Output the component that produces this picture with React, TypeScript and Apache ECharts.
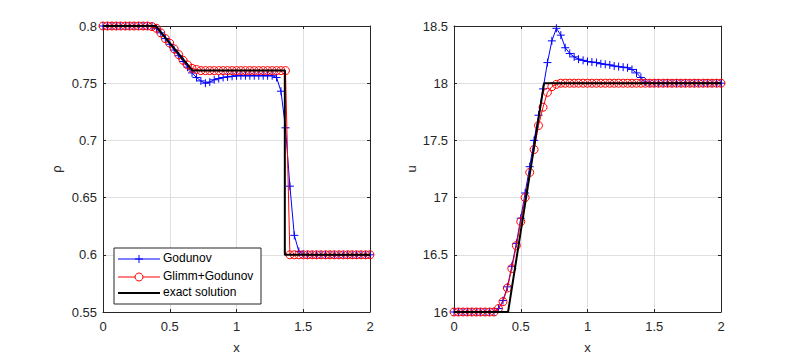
import React, { useEffect, useRef } from 'react';
import * as echarts from 'echarts';

// grid of sample points (x)
const xGrid = [0, 0.033, 0.067, 0.1, 0.133, 0.167, 0.2, 0.233, 0.267, 0.3, 0.333, 0.367, 0.4, 0.433, 0.467, 0.5, 0.533, 0.567, 0.6, 0.633, 0.667, 0.7, 0.733, 0.767, 0.8, 0.833, 0.867, 0.9, 0.933, 0.967, 1, 1.033, 1.067, 1.1, 1.133, 1.167, 1.2, 1.233, 1.267, 1.3, 1.333, 1.367, 1.4, 1.433, 1.467, 1.5, 1.533, 1.567, 1.6, 1.633, 1.667, 1.7, 1.733, 1.767, 1.8, 1.833, 1.867, 1.9, 1.933, 1.967, 2];

// density rho
const rhoGodunov = [
  0.8, 0.8, 0.8, 0.8, 0.8, 0.8, 0.8, 0.8, 0.8, 0.8, 0.8,
  0.7995, 0.798, 0.794, 0.789, 0.784, 0.779, 0.774, 0.769, 0.764, 0.759, 0.755, 0.752, 0.75, 0.751, 0.753, 0.754, 0.755, 0.7555, 0.756,
  0.7565, 0.7565, 0.7565, 0.7565, 0.7565, 0.7565, 0.7565, 0.7565, 0.7565,
  0.755, 0.743, 0.711, 0.66, 0.617, 0.603, 0.6005,
  0.6, 0.6, 0.6, 0.6, 0.6, 0.6, 0.6, 0.6, 0.6, 0.6, 0.6, 0.6, 0.6, 0.6, 0.6,
];
const rhoGlimm = [
  0.8, 0.8, 0.8, 0.8, 0.8, 0.8, 0.8, 0.8, 0.8, 0.8, 0.8,
  0.7995, 0.798, 0.794, 0.789, 0.785, 0.78, 0.775, 0.77, 0.766, 0.763, 0.762,
  0.761, 0.761, 0.761, 0.761, 0.761, 0.761, 0.761, 0.761, 0.761, 0.761, 0.761, 0.761, 0.761, 0.761, 0.761, 0.761, 0.761, 0.761, 0.761, 0.761,
  0.6, 0.6, 0.6, 0.6, 0.6, 0.6, 0.6, 0.6, 0.6, 0.6, 0.6, 0.6, 0.6, 0.6, 0.6, 0.6, 0.6, 0.6, 0.6,
];
const rhoExactX = [0, 0.395, 0.67, 1.362, 1.362, 2];
const rhoExact = [0.8, 0.8, 0.761, 0.761, 0.6, 0.6];

// velocity u
const uGodunov = [
  16, 16, 16, 16, 16, 16, 16, 16, 16, 16,
  16.03, 16.1, 16.22, 16.4, 16.6, 16.82, 17.04, 17.27, 17.5, 17.72, 17.95, 18.18, 18.37, 18.48, 18.42, 18.31, 18.26, 18.23, 18.21, 18.2,
  18.19, 18.185, 18.18, 18.17, 18.165, 18.16, 18.15, 18.145, 18.14, 18.135, 18.12, 18.09, 18.05, 18.01,
  18, 18, 18, 18, 18, 18, 18, 18, 18, 18, 18, 18, 18, 18, 18, 18, 18,
];
const uGlimm = [
  16, 16, 16, 16, 16, 16, 16, 16, 16, 16,
  16.03, 16.09, 16.21, 16.38, 16.58, 16.79, 17.0, 17.22, 17.42, 17.63, 17.79, 17.92, 17.97, 17.99,
  18, 18, 18, 18, 18, 18, 18, 18, 18, 18, 18, 18, 18, 18, 18, 18, 18, 18, 18, 18, 18, 18, 18, 18, 18, 18, 18, 18, 18, 18, 18, 18, 18, 18, 18, 18, 18,
];
const uExactX = [0, 0.405, 0.675, 2];
const uExact = [16, 16, 18, 18];

const xTicks = { min: 0, max: 2, interval: 0.5 };
const rhoTicks = { min: 0.55, max: 0.8, interval: 0.05 };
const uTicks = { min: 16, max: 18.5, interval: 0.5 };

const legendNames = ['Godunov', 'Glimm+Godunov', 'exact solution'];

const FONT = "'Liberation Sans', Arial, Helvetica, sans-serif";
const AX = '#262626';
const GRIDC = '#dfdfdf';
const PLUS = 'path://M0,5L10,5M5,0L5,10';

const zip = (xs: number[], ys: number[]) => xs.map((x, i) => [x, ys[i]]);

function bottomX(gridIndex: number, name: string) {
  return {
    type: 'value', gridIndex, position: 'bottom', ...xTicks,
    name, nameLocation: 'middle', nameGap: 29,
    nameTextStyle: { fontFamily: FONT, fontSize: 13, color: AX },
    axisLine: { show: true, onZero: false, lineStyle: { color: AX, width: 1 } },
    axisTick: { show: true, inside: true, length: 3, lineStyle: { color: AX } },
    axisLabel: { fontFamily: FONT, fontSize: 13, color: AX, margin: 8 },
    splitLine: { show: true, lineStyle: { color: GRIDC, width: 1 } },
  };
}
function topX(gridIndex: number) {
  return {
    type: 'value', gridIndex, position: 'top', ...xTicks,
    axisLine: { show: true, onZero: false, lineStyle: { color: AX, width: 1 } },
    axisTick: { show: true, inside: true, length: 3, lineStyle: { color: AX } },
    axisLabel: { show: false },
    splitLine: { show: false },
  };
}
function leftY(gridIndex: number, ticks: any, name: string, gap: number) {
  return {
    type: 'value', gridIndex, position: 'left', ...ticks,
    name, nameLocation: 'middle', nameGap: gap, nameRotate: 90,
    nameTextStyle: { fontFamily: FONT, fontSize: 13, color: AX },
    axisLine: { show: true, onZero: false, lineStyle: { color: AX, width: 1 } },
    axisTick: { show: true, inside: true, length: 3, lineStyle: { color: AX } },
    axisLabel: { fontFamily: FONT, fontSize: 13, color: AX, margin: 6 },
    splitLine: { show: true, lineStyle: { color: GRIDC, width: 1 } },
  };
}
function rightY(gridIndex: number, ticks: any) {
  return {
    type: 'value', gridIndex, position: 'right', ...ticks,
    axisLine: { show: true, onZero: false, lineStyle: { color: AX, width: 1 } },
    axisTick: { show: true, inside: true, length: 3, lineStyle: { color: AX } },
    axisLabel: { show: false },
    splitLine: { show: false },
  };
}

function godunovSeries(xi: number, yi: number, data: number[][]) {
  return {
    type: 'line', name: legendNames[0], xAxisIndex: xi, yAxisIndex: yi, data,
    symbol: PLUS, symbolSize: 8, showSymbol: true, showAllSymbol: true, clip: false, silent: true,
    lineStyle: { color: '#0000ff', width: 1 },
    itemStyle: { color: 'transparent', borderColor: '#0000ff', borderWidth: 1 },
    z: 2,
  };
}
function glimmSeries(xi: number, yi: number, data: number[][]) {
  return {
    type: 'line', name: legendNames[1], xAxisIndex: xi, yAxisIndex: yi, data,
    symbol: 'circle', symbolSize: 8, showSymbol: true, showAllSymbol: true, clip: false, silent: true,
    lineStyle: { color: '#ff0000', width: 1 },
    itemStyle: { color: 'transparent', borderColor: '#ff0000', borderWidth: 1 },
    z: 3,
  };
}
function exactSeries(xi: number, yi: number, data: number[][]) {
  return {
    type: 'line', name: legendNames[2], xAxisIndex: xi, yAxisIndex: yi, data,
    symbol: 'none', showSymbol: false, clip: false, silent: true,
    lineStyle: { color: '#000000', width: 2 },
    z: 4,
  };
}

const LX = 114, LY = 248, LW = 147, LH = 56;
const rows = [259, 277, 293];

const textEl = (y: number, text: string) => ({
  type: 'text', x: 163, y: y - 7, z: 102,
  style: { text, fontFamily: FONT, fontSize: 12, fill: '#000000', verticalAlign: 'top', align: 'left' },
});
const lineEl = (y: number, color: string, w: number, x1 = 118, x2 = 160, y2?: number) => ({
  type: 'line', z: 101,
  shape: { x1, y1: y, x2, y2: y2 === undefined ? y : y2 },
  style: { stroke: color, lineWidth: w },
});

const option: any = {
  animation: false,
  backgroundColor: '#ffffff',
  grid: [
    { left: 103, top: 26, width: 267, height: 288 },
    { left: 454, top: 26, width: 267, height: 288 },
  ],
  xAxis: [bottomX(0, 'x'), topX(0), bottomX(1, 'x'), topX(1)],
  yAxis: [leftY(0, rhoTicks, 'ρ', 40), rightY(0, rhoTicks), leftY(1, uTicks, 'u', 36), rightY(1, uTicks)],
  series: [
    godunovSeries(0, 0, zip(xGrid, rhoGodunov)),
    glimmSeries(0, 0, zip(xGrid, rhoGlimm)),
    exactSeries(0, 0, zip(rhoExactX, rhoExact)),
    godunovSeries(2, 2, zip(xGrid, uGodunov)),
    glimmSeries(2, 2, zip(xGrid, uGlimm)),
    exactSeries(2, 2, zip(uExactX, uExact)),
  ],
  graphic: [
    { type: 'rect', z: 100, shape: { x: LX, y: LY, width: LW, height: LH }, style: { fill: '#ffffff', stroke: AX, lineWidth: 1 } },
    lineEl(rows[0], '#0000ff', 1),
    lineEl(rows[0], '#0000ff', 1, 135, 143),
    lineEl(rows[0] - 4, '#0000ff', 1, 139, 139, rows[0] + 4),
    textEl(rows[0], legendNames[0]),
    lineEl(rows[1], '#ff0000', 1),
    { type: 'circle', z: 101, shape: { cx: 139, cy: rows[1], r: 4 }, style: { fill: '#ffffff', stroke: '#ff0000', lineWidth: 1 } },
    textEl(rows[1], legendNames[1]),
    lineEl(rows[2], '#000000', 2),
    textEl(rows[2], legendNames[2]),
  ],
};

export default function App() {
  const ref = useRef<HTMLDivElement>(null);
  useEffect(() => {
    if (!ref.current) return;
    const chart = echarts.init(ref.current, null, { renderer: 'svg' });
    chart.setOption(option);
    return () => chart.dispose();
  }, []);
  return <div ref={ref} style={{ position: 'fixed', left: 0, top: 0, width: 797, height: 359, background: '#fff' }} />;
}
